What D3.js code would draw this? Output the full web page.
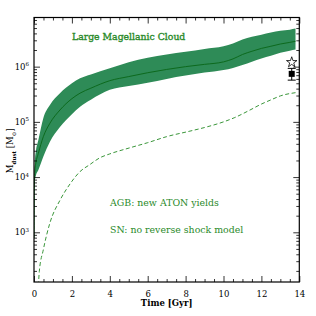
<!DOCTYPE html>
<html><head><meta charset="utf-8">
<script src="https://cdn.jsdelivr.net/npm/d3@7"></script>
<style>body{margin:0;background:#fff}svg{display:block}</style>
</head><body>
<svg id="c" width="316" height="316"></svg>
<script>
// ---- data ----
const times = [0.005,0.02,0.05,0.1,0.23,0.49,0.84,1.37,2,2.43,3,4,5,6,7,8,9,10,10.5,11,11.5,12,12.5,13,13.5,13.8];
const dustHigh = [7.9e2,7.9e3,2.04e4,2.95e4,4.68e4,1.16e5,2.02e5,3.31e5,5.0e5,6.17e5,7.24e5,9.33e5,1.2e6,1.45e6,1.66e6,1.86e6,2.09e6,2.34e6,2.63e6,3.09e6,3.47e6,3.8e6,4.17e6,4.47e6,4.68e6,4.9e6];
const dustMid = [7.9e2,6.3e3,1.35e4,1.82e4,2.69e4,5.37e4,9.44e4,1.64e5,2.63e5,3.31e5,4.07e5,5.57e5,6.61e5,7.76e5,8.9e5,1.0e6,1.1e6,1.22e6,1.38e6,1.66e6,1.9e6,2.14e6,2.34e6,2.57e6,2.75e6,2.88e6];
const dustLow = [7.9e2,5.0e3,8.9e3,1.07e4,1.35e4,2.34e4,4.37e4,8.1e4,1.38e5,1.88e5,2.51e5,3.8e5,4.47e5,5.13e5,6.0e5,6.9e5,7.8e5,8.7e5,9.5e5,1.07e6,1.23e6,1.41e6,1.58e6,1.78e6,1.95e6,2.04e6];
const dashTimes = [0.2,0.28,0.49,0.84,1.37,1.9,2.43,2.92,3.48,4,5.07,6,7,8.23,9,10,10.6,11.4,12,12.5,13,13.86];
const dashDust = [63,195,480,1.48e3,3.8e3,7.5e3,1.26e4,1.66e4,2.24e4,2.63e4,3.4e4,4.2e4,5.4e4,6.8e4,7.9e4,1.0e5,1.2e5,1.64e5,2.1e5,2.5e5,2.95e5,3.4e5];
const obsTime = [13.6];
const obsStar = [1.2e6];
const obsSquare = [7.4e5];
const obsSquareLo = [5.7e5];
const obsSquareHi = [9.3e5];
const xTickValues = [0,2,4,6,8,10,12,14];
const yTickExponents = [3,4,5,6];
const title = "Large Magellanic Cloud";
const notes = ["AGB: new ATON yields","SN: no reverse shock model"];

// ---- layout ----
const L = 34, R = 299.3, T = 17.5, B = 282;
const svg = d3.select("#c");
const x = d3.scaleLinear().domain([0,14]).range([L,R]);
const y = d3.scaleLog().domain([Math.pow(10,2.1), Math.pow(10,6.89)]).range([B,T]);

const bandColor = "#2e8b57", lineColor = "#0d6a1e", dashColor = "#3a963a", textColor = "#2a8a2a";

svg.append("defs").append("clipPath").attr("id","clip")
  .append("rect").attr("x",L).attr("y",T).attr("width",R-L).attr("height",B-T);
const g = svg.append("g").attr("clip-path","url(#clip)");

const curve = d3.curveMonotoneX;
const band = times.map((t,i)=>({t, lo:dustLow[i], hi:dustHigh[i], mid:dustMid[i]}));
g.append("path").datum(band)
  .attr("d", d3.area().x(d=>x(d.t)).y0(d=>y(d.lo)).y1(d=>y(d.hi)).curve(curve))
  .attr("fill", bandColor);
g.append("path").datum(band)
  .attr("d", d3.line().x(d=>x(d.t)).y(d=>y(d.mid)).curve(curve))
  .attr("fill","none").attr("stroke",lineColor).attr("stroke-width",1);
g.append("path").datum(dashTimes.map((t,i)=>({t,v:dashDust[i]})))
  .attr("d", d3.line().x(d=>x(d.t)).y(d=>y(d.v)).curve(curve))
  .attr("fill","none").attr("stroke",dashColor).attr("stroke-width",1)
  .attr("stroke-dasharray","4,2.5");

// observations
const sq = svg.append("g");
obsTime.forEach((t,i)=>{
  const cx = x(t);
  sq.append("line").attr("x1",cx).attr("x2",cx).attr("y1",y(obsSquareLo[i])).attr("y2",y(obsSquareHi[i])).attr("stroke","#000").attr("stroke-width",1);
  [obsSquareLo[i],obsSquareHi[i]].forEach(v=>sq.append("line").attr("x1",cx-4).attr("x2",cx+4).attr("y1",y(v)).attr("y2",y(v)).attr("stroke","#000").attr("stroke-width",1));
  sq.append("rect").attr("x",cx-3).attr("y",y(obsSquare[i])-3).attr("width",6).attr("height",6).attr("fill","#000");
  const star = d3.symbol().type(d3.symbolStar).size(34);
  sq.append("path").attr("d",star()).attr("transform",`translate(${cx},${y(obsStar[i])})`)
    .attr("fill","#fff").attr("stroke","#000").attr("stroke-width",0.8);
});

// ---- axes ----
const minorX = d3.range(0,14.01,0.5).filter(v=>v%2!==0);
function xAxis(gen, yPos, dir, labels){
  const a = svg.append("g").attr("transform",`translate(0,${yPos})`);
  a.call(gen(x).tickValues(xTickValues).tickSize(dir*6).tickFormat(labels?d3.format("d"):""));
  a.call(g2=>g2.select(".domain").remove());
  const m = svg.append("g").attr("transform",`translate(0,${yPos})`);
  m.call(gen(x).tickValues(minorX).tickSize(dir*3).tickFormat(""));
  m.select(".domain").remove();
  return a;
}
const xb = xAxis(d3.axisBottom, B, -1, true);
xb.selectAll("text").attr("y",9).attr("dy","0.71em");
xAxis(d3.axisTop, T, -1, false);

const majorY = yTickExponents.map(e=>Math.pow(10,e));
const minorY = [];
for (let e=2;e<=6;e++) for (let k=2;k<=9;k++){ const v=k*Math.pow(10,e); if (v>=y.domain()[0] && v<=y.domain()[1]) minorY.push(v); }
function yAxis(gen, xPos){
  const a = svg.append("g").attr("transform",`translate(${xPos},0)`);
  a.call(gen(y).tickValues(majorY).tickSize(-6).tickFormat(""));
  a.select(".domain").remove();
  const m = svg.append("g").attr("transform",`translate(${xPos},0)`);
  m.call(gen(y).tickValues(minorY).tickSize(-3).tickFormat(""));
  m.select(".domain").remove();
}
yAxis(d3.axisLeft, L);
yAxis(d3.axisRight, R);
svg.selectAll(".tick line").attr("stroke","#000").attr("stroke-width",0.8);

svg.append("rect").attr("x",L).attr("y",T).attr("width",R-L).attr("height",B-T)
  .attr("fill","none").attr("stroke","#000").attr("stroke-width",1.2);

const fontFam = "'DejaVu Serif', 'Liberation Serif', serif";
svg.selectAll(".tick text").attr("font-family",fontFam).attr("font-size",8.5).attr("fill","#000");

// y tick labels with superscripts
yTickExponents.forEach(e=>{
  const t = svg.append("text").attr("x",L-5).attr("y",y(Math.pow(10,e))+3)
    .attr("text-anchor","end").attr("font-family",fontFam).attr("font-size",8.5).attr("fill","#000");
  t.append("tspan").text("10");
  t.append("tspan").attr("dy",-3.5).attr("font-size",5.5).text(String(e));
});

// axis titles
svg.append("text").attr("x",(L+R)/2).attr("y",306).attr("text-anchor","middle")
  .attr("font-family",fontFam).attr("font-size",8.5).attr("font-weight","bold").text("Time [Gyr]");
const yl = svg.append("text").attr("transform",`translate(13,${(T+B)/2+1}) rotate(-90)`)
  .attr("text-anchor","middle").attr("font-family",fontFam).attr("font-size",8.5).attr("fill","#000");
yl.append("tspan").text("M");
yl.append("tspan").attr("dy",2.5).attr("font-size",5.5).attr("font-weight","bold").text("dust");
yl.append("tspan").attr("dy",-2.5).text(" [M");
yl.append("tspan").attr("dy",2.5).attr("font-size",5.5).text("⊙");
yl.append("tspan").attr("dy",-2.5).text("]");

// annotations
svg.append("text").attr("x",72).attr("y",40).attr("font-family",fontFam).attr("font-size",9.3)
  .attr("fill",textColor).attr("stroke",textColor).attr("stroke-width",0.35).text(title);
notes.forEach((n,i)=>svg.append("text").attr("x",110).attr("y",206+i*26.5)
  .attr("font-family",fontFam).attr("font-size",9.4).attr("fill",textColor).text(n));
</script>
</body></html>
